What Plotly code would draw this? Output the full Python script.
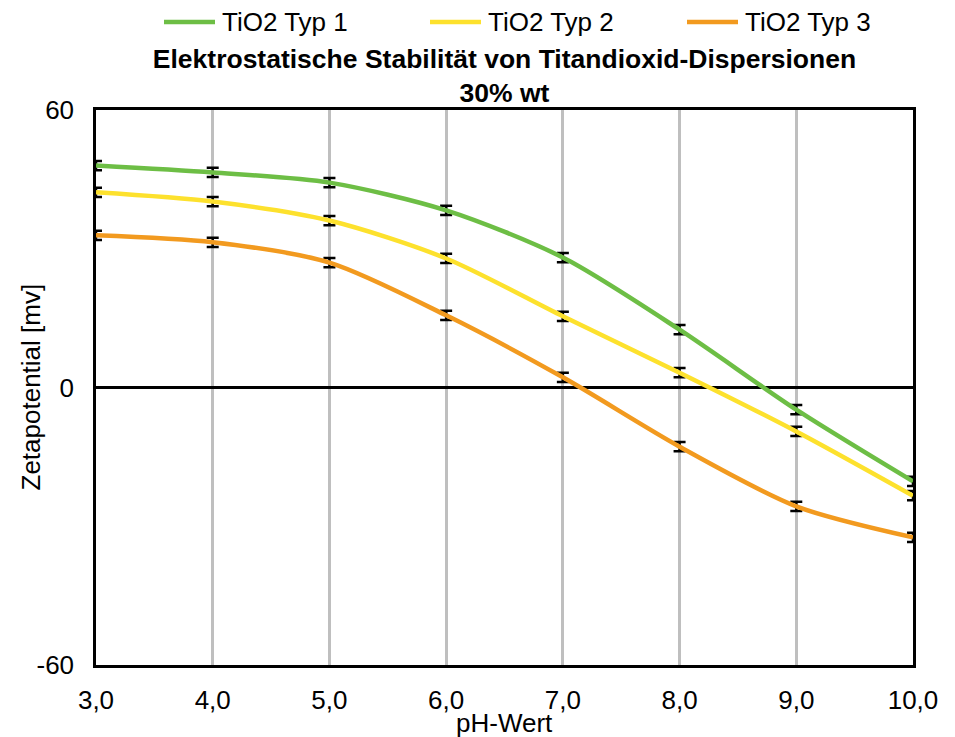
import plotly.graph_objects as go

ph = [3.0, 4.0, 5.0, 6.0, 7.0, 8.0, 9.0, 10.0]
typ1 = [48.0, 46.5, 44.3, 38.3, 28.1, 12.5, -4.8, -20.3]
typ2 = [42.2, 40.2, 36.1, 27.9, 15.4, 3.2, -9.5, -23.4]
typ3 = [32.9, 31.4, 27.0, 15.6, 2.2, -12.8, -25.7, -32.4]
err1 = [1.0] * 8
err2 = [1.0] * 8
err3 = [1.0] * 8
names = ["TiO2 Typ 1", "TiO2 Typ 2", "TiO2 Typ 3"]
colors = ["#6DBE45", "#FDE12D", "#F29A1F"]
x_tickvals = ph
x_ticktext = ["3,0", "4,0", "5,0", "6,0", "7,0", "8,0", "9,0", "10,0"]
y_tickvals = [-60, 0, 60]
y_ticktext = ["-60", "0", "60"]

fig = go.Figure()
for name, ys, errs, c in zip(names, [typ1, typ2, typ3], [err1, err2, err3], colors):
    fig.add_trace(go.Scatter(
        x=ph, y=ys, name=name, mode="lines", showlegend=False,
        line=dict(color=c, width=4.5, shape="spline", smoothing=0.8),
        error_y=dict(type="data", array=errs, visible=True, color="black",
                     thickness=2.5, width=6),
    ))

font = "Liberation Sans, Arial, sans-serif"
W, H = 947, 729

# custom legend (pixel offsets relative to the plot's top-left corner)
legend_line_x = [68, 334, 591]
for name, c, lx in zip(names, colors, legend_line_x):
    fig.add_shape(type="line", xref="paper", yref="paper",
                  xsizemode="pixel", ysizemode="pixel", xanchor=0, yanchor=1,
                  x0=lx, x1=lx + 51, y0=88, y1=88,
                  line=dict(color=c, width=4.5))
    fig.add_annotation(text=name, xref="paper", yref="paper", x=0, y=1,
                       xanchor="left", yanchor="middle", xshift=lx + 56, yshift=88,
                       showarrow=False, font=dict(family=font, size=26, color="black"))

fig.add_annotation(text="pH-Wert", xref="paper", yref="paper", x=0.5, y=0,
                   xanchor="center", yanchor="middle", yshift=-58, showarrow=False,
                   font=dict(family=font, size=26, color="black"))
fig.add_annotation(text="Zetapotential [mv]", xref="paper", yref="paper", x=0, y=0.5,
                   xanchor="center", yanchor="middle", xshift=-66, textangle=-90,
                   showarrow=False, font=dict(family=font, size=26, color="black"))

fig.update_layout(
    width=W, height=H,
    margin=dict(l=88, r=42, t=102, b=72),
    paper_bgcolor="white", plot_bgcolor="white",
    font=dict(family=font, size=26, color="black"),
    title=dict(
        text="<b>Elektrostatische Stabilität von Titandioxid-Dispersionen<br>30% wt</b>",
        x=0.5, xanchor="center", xref="paper",
        y=1 - 60 / H, yanchor="middle", yref="container",
        font=dict(family=font, size=26.5, color="black"),
    ),
    showlegend=False,
)
fig.update_xaxes(
    range=[3, 10], tickvals=x_tickvals, ticktext=x_ticktext,
    showgrid=True, gridcolor="#BFBFBF", gridwidth=2.5,
    showline=True, linecolor="black", linewidth=2.5, mirror=True,
    ticks="", zeroline=False, ticklabelstandoff=10, automargin=False,
    tickfont=dict(size=26),
)
fig.update_yaxes(
    range=[-60, 60], tickvals=y_tickvals, ticktext=y_ticktext,
    showgrid=False, zeroline=True, zerolinecolor="black", zerolinewidth=2.5,
    showline=True, linecolor="black", linewidth=2.5, mirror=True,
    ticks="", ticklabelstandoff=14, automargin=False,
    tickfont=dict(size=26),
)
fig.write_html("out.html")
